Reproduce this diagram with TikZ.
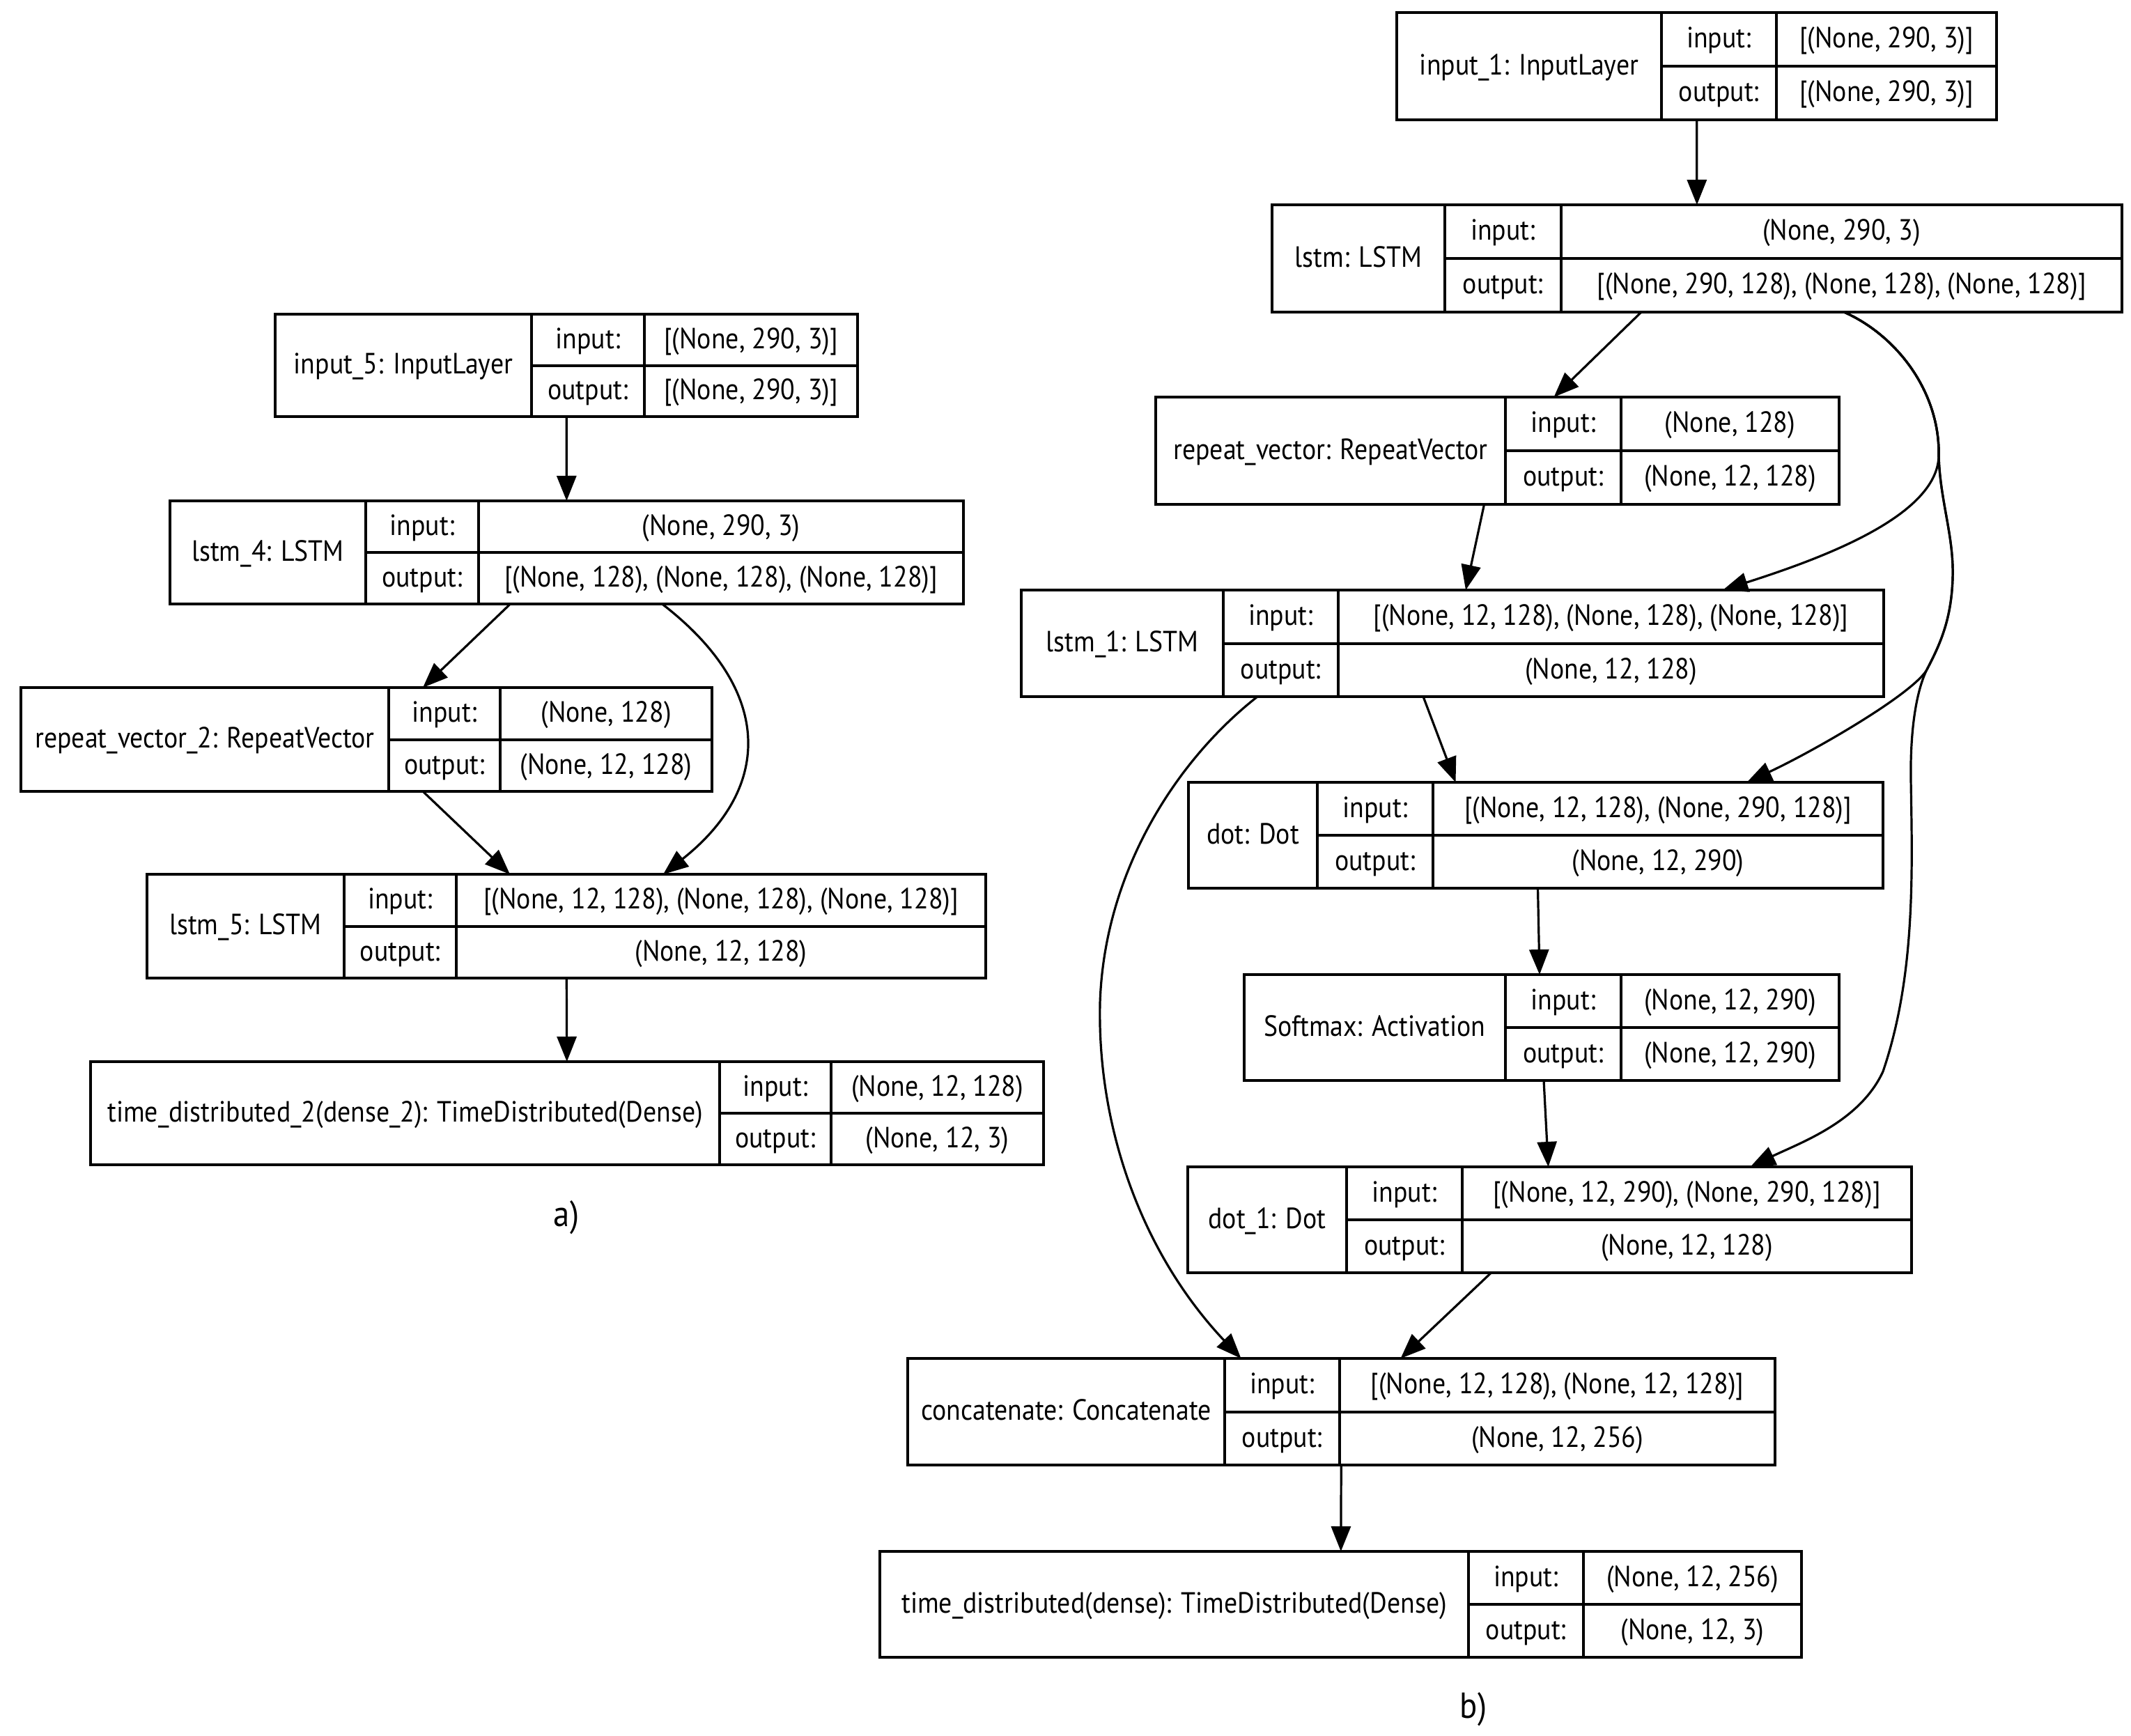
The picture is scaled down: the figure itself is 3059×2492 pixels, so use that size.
\documentclass[tikz,border=0pt]{standalone}
\usepackage{fontspec}
\setmainfont[FakeStretch=0.9]{PT Sans}
\usetikzlibrary{arrows.meta, calc}

% one pixel of the layout
\newcommand{\px}{0.25pt}
% record box: id, top left, w label, w key, w value, height, label, input, output
\newcommand{\layerbox}[9]{%
  \node[cell, minimum width={(#3+#4+#5)*\px}, minimum height=#6*\px] (#1) at (#2) {};
  \node[cell, minimum width=#3*\px, minimum height=#6*\px] (#1-l) at (#1.north west) {\makebox[0pt]{#7}};
  \node[cell, minimum width=#4*\px, minimum height=#6*\px/2] (#1-ik) at (#1-l.north east) {\makebox[0pt]{input:}};
  \node[cell, minimum width=#4*\px, minimum height=#6*\px/2] (#1-ok) at (#1-ik.south west) {\makebox[0pt]{output:}};
  \node[cell, minimum width=#5*\px, minimum height=#6*\px/2] (#1-iv) at (#1-ik.north east) {\makebox[0pt]{#8}};
  \node[cell, minimum width=#5*\px, minimum height=#6*\px/2] (#1-ov) at (#1-ok.north east) {\makebox[0pt]{#9}};
}

\begin{document}
\begin{tikzpicture}[
    x=0.25pt, y=-0.25pt,
    cell/.style={draw, rectangle, anchor=north west, line width=1pt, inner sep=0pt, outer sep=0pt,
      font=\fontsize{10.5}{12}\selectfont, text height=6.8pt, text depth=0.6pt},
    caption/.style={font=\fontsize{13}{15}\selectfont},
    arrow/.style={-{Triangle[length=9pt, width=7pt]}, line width=0.8pt}
    ]
    \useasboundingbox (0,0) rectangle (3059,2492);

    % Nodes a)
    \layerbox{in5}{395,451}{368}{162}{306}{147}{input\_5: InputLayer}{[(None, 290, 3)]}{[(None, 290, 3)]}
    \layerbox{lstm4}{244,719}{281}{162}{696}{148}{lstm\_4: LSTM}{(None, 290, 3)}{[(None, 128), (None, 128), (None, 128)]}
    \layerbox{rv2}{30,987}{528}{160}{304}{149}{repeat\_vector\_2: RepeatVector}{(None, 128)}{(None, 12, 128)}
    \layerbox{lstm5}{211,1255}{283}{161}{760}{149}{lstm\_5: LSTM}{[(None, 12, 128), (None, 128), (None, 128)]}{(None, 12, 128)}
    \layerbox{td2}{130,1524}{903}{160}{305}{148}{time\_distributed\_2(dense\_2): TimeDistributed(Dense)}{(None, 12, 128)}{(None, 12, 3)}
    \node[caption] (cap-a) at (813,1748) {a)};

    % Nodes b)
    \layerbox{in1}{2005,18}{380}{165}{316}{154}{input\_1: InputLayer}{[(None, 290, 3)]}{[(None, 290, 3)]}
    \layerbox{lstm}{1826,294}{248}{167}{805}{154}{lstm: LSTM}{(None, 290, 3)}{[(None, 290, 128), (None, 128), (None, 128)]}
    \layerbox{rv}{1659,570}{502}{166}{313}{154}{repeat\_vector: RepeatVector}{(None, 128)}{(None, 12, 128)}
    \layerbox{lstm1}{1466,847}{290}{165}{783}{153}{lstm\_1: LSTM}{[(None, 12, 128), (None, 128), (None, 128)]}{(None, 12, 128)}
    \layerbox{dot}{1706,1123}{185}{166}{646}{152}{dot: Dot}{[(None, 12, 128), (None, 290, 128)]}{(None, 12, 290)}
    \layerbox{soft}{1786,1399}{375}{166}{313}{152}{Softmax: Activation}{(None, 12, 290)}{(None, 12, 290)}
    \layerbox{dot1}{1705,1675}{228}{166}{645}{152}{dot\_1: Dot}{[(None, 12, 290), (None, 290, 128)]}{(None, 12, 128)}
    \layerbox{cat}{1303,1950}{455}{165}{625}{153}{concatenate: Concatenate}{[(None, 12, 128), (None, 12, 128)]}{(None, 12, 256)}
    \layerbox{td}{1263,2227}{845}{165}{313}{152}{time\_distributed(dense): TimeDistributed(Dense)}{(None, 12, 256)}{(None, 12, 3)}
    \node[caption] (cap-b) at (2115,2454) {b)};

    % Arrows a)
    \draw[arrow] (in5) -- (lstm4);
    \draw[arrow] ($(lstm4.south)+(-81,0)$) -- ($(rv2.north)+(81,0)$);
    \draw[arrow] ($(rv2.south)+(81,0)$) -- ($(lstm5.north)+(-81,0)$);
    \draw[arrow] ($(lstm4.south)+(137,0)$) .. controls (1110,990) and (1110,1130) .. ($(lstm5.north)+(139,0)$);
    \draw[arrow] (lstm5) -- (td2);

    % Arrows b)
    \draw[arrow] (in1) -- (lstm);
    \draw[arrow] ($(lstm.south)+(-80,0)$) -- ($(rv.north)+(81,0)$);
    \draw[arrow] ($(rv.south)+(-19,0)$) -- ($(lstm1.north)+(19,0)$);
    \draw[arrow] ($(lstm1.south)+(-42,0)$) -- ($(dot.north)+(-115,0)$);
    \draw[arrow] ($(dot.south)+(3,0)$) -- ($(soft.north)+(-3,0)$);
    \draw[arrow] ($(soft.south)+(3,0)$) -- ($(dot1.north)+(-2,0)$);
    \draw[arrow] ($(dot1.south)+(-84,0)$) -- ($(cat.north)+(85,0)$);
    \draw[arrow] (cat) -- (td);
    \draw[arrow] ($(lstm1.south)+(-280,0)$) .. controls (1690,1090) and (1585,1250) .. (1579,1440)
      .. controls (1575,1620) and (1640,1800) .. ($(cat.north)+(-144,0)$);
    \draw[arrow] ($(lstm.south)+(211,0)$) .. controls (2720,480) and (2785,560) .. (2783,655)
      .. controls (2780,740) and (2620,800) .. ($(lstm1.north)+(388,0)$);
    \draw[arrow] ($(lstm.south)+(211,0)$) .. controls (2720,480) and (2785,560) .. (2783,655)
      .. controls (2785,720) and (2805,770) .. (2803,830) .. controls (2801,890) and (2785,925) .. (2765,963)
      .. controls (2740,1000) and (2600,1080) .. ($(dot.north)+(303,0)$);
    \draw[arrow] ($(lstm.south)+(211,0)$) .. controls (2720,480) and (2785,560) .. (2783,655)
      .. controls (2785,720) and (2805,770) .. (2803,830) .. controls (2801,890) and (2785,925) .. (2765,963)
      .. controls (2748,1000) and (2742,1060) .. (2743,1120) .. controls (2745,1250) and (2750,1400) .. (2703,1538)
      .. controls (2670,1610) and (2585,1640) .. ($(dot1.north)+(288,0)$);
\end{tikzpicture}
\end{document}
